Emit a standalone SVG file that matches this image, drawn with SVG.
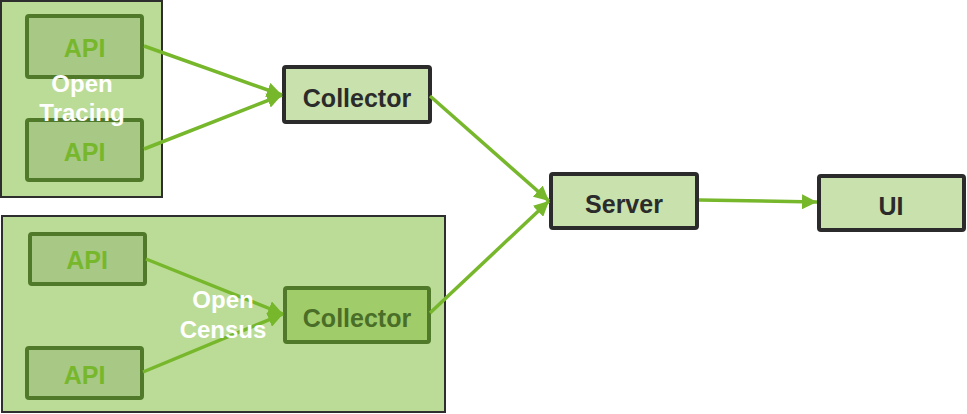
<svg xmlns="http://www.w3.org/2000/svg" width="967" height="414" viewBox="0 0 967 414">
<defs>
<style>
.grp{fill:#bbdc96;stroke:#2e2e2e;stroke-width:2}
.api{fill:#a8c985;stroke:#507a2a;stroke-width:4}
.apit{fill:#77b72c;font-family:"Liberation Sans",Arial,sans-serif;font-weight:bold;font-size:25px;text-anchor:middle}
.lbl{fill:#ffffff;font-family:"Liberation Sans",Arial,sans-serif;font-weight:bold;font-size:24px;text-anchor:middle}
.box{fill:#c9e2ad;stroke:#2b2b2b;stroke-width:4}
.boxt{fill:#2b2b2b;font-family:"Liberation Sans",Arial,sans-serif;font-weight:bold;font-size:25px;text-anchor:middle}
.ocbox{fill:#a0cd6a;stroke:#507a2a;stroke-width:4}
.oct{fill:#4a6e28;font-family:"Liberation Sans",Arial,sans-serif;font-weight:bold;font-size:25px;text-anchor:middle}
.edge{fill:none;stroke:#77b72c;stroke-width:3.5}
</style>
<marker id="arr" viewBox="0 0 10 10" refX="10" refY="5" markerWidth="4.3" markerHeight="4.3" markerUnits="strokeWidth" orient="auto">
<path d="M0,0 L10,5 L0,10 z" fill="#77b72c"/>
</marker>
</defs>
<g id="opentracing">
<rect class="grp" x="1" y="1" width="161" height="196"/>
</g>
<g id="opencensus">
<rect class="grp" x="2" y="216" width="443" height="196"/>
</g>
<g id="ot-api1">
<rect class="api" x="27" y="16" width="115" height="61" rx="2"/>
<text class="apit" x="84.5" y="57">API</text>
</g>
<g id="ot-api2">
<rect class="api" x="27" y="120" width="115" height="60" rx="2"/>
<text class="apit" x="84.5" y="161">API</text>
</g>
<g id="oc-api1">
<rect class="api" x="30" y="234" width="115" height="50" rx="2"/>
<text class="apit" x="87" y="269">API</text>
</g>
<g id="oc-api2">
<rect class="api" x="27" y="348" width="115" height="50" rx="2"/>
<text class="apit" x="84.5" y="384">API</text>
</g>
<g id="oc-collector">
<rect class="ocbox" x="285" y="288" width="144" height="54" rx="2"/>
<text class="oct" x="357" y="327">Collector</text>
</g>
<g id="collector">
<rect class="box" x="284" y="67" width="146" height="55" rx="2"/>
<text class="boxt" x="357" y="107">Collector</text>
</g>
<g id="server">
<rect class="box" x="551" y="174" width="146" height="54" rx="2"/>
<text class="boxt" x="624" y="213">Server</text>
</g>
<g id="ui">
<rect class="box" x="819" y="176" width="145" height="54" rx="2"/>
<text class="boxt" x="891" y="215">UI</text>
</g>
<g id="connectors">
<path class="edge" d="M144,46 L282,95" marker-end="url(#arr)"/>
<path class="edge" d="M144,149 L282,95" marker-end="url(#arr)"/>
<path class="edge" d="M430,96 L549,201" marker-end="url(#arr)"/>
<path class="edge" d="M430,313 L549,201" marker-end="url(#arr)"/>
<path class="edge" d="M699,200 L817,202" marker-end="url(#arr)"/>
<path class="edge" d="M146,259 L283,314" marker-end="url(#arr)"/>
<path class="edge" d="M143,372 L283,314" marker-end="url(#arr)"/>
</g>
<g id="ot-label">
<text class="lbl" x="82" y="92">Open</text>
<text class="lbl" x="82" y="121">Tracing</text>
</g>
<g id="oc-label">
<text class="lbl" x="223" y="308">Open</text>
<text class="lbl" x="223" y="338">Census</text>
</g>
</svg>
